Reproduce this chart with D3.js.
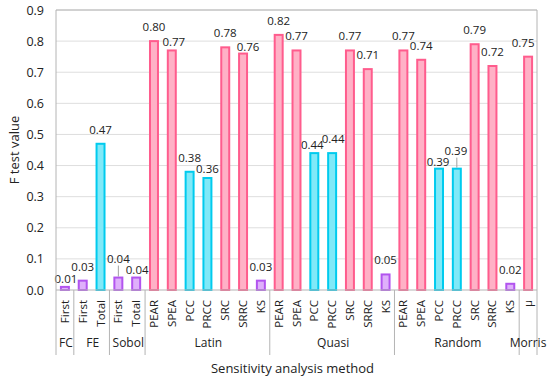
<!DOCTYPE html>
<html>
<head>
<meta charset="utf-8">
<script src="https://cdn.jsdelivr.net/npm/d3@7"></script>
<style>
  body { margin: 0; background: #fff; }
  text { font-family: "Open Sans", "Noto Sans", sans-serif; fill: #222; }
</style>
</head>
<body>
<div id="fig"></div>
<script>
// data
let groups   = ['FC', 'FE', 'Sobol', 'Latin', 'Quasi', 'Random', 'Morris'];
let methods  = [
    ['First'],
    ['First', 'Total'],
    ['First', 'Total'],
    ['PEAR', 'SPEA', 'PCC', 'PRCC', 'SRC', 'SRRC', 'KS'],
    ['PEAR', 'SPEA', 'PCC', 'PRCC', 'SRC', 'SRRC', 'KS'],
    ['PEAR', 'SPEA', 'PCC', 'PRCC', 'SRC', 'SRRC', 'KS'],
    ['\u03bc']
];
let values = [
    [0.01],
    [0.03, 0.47],
    [0.04, 0.04],
    [0.80, 0.77, 0.38, 0.36, 0.78, 0.76, 0.03],
    [0.82, 0.77, 0.44, 0.44, 0.77, 0.71, 0.05],
    [0.77, 0.74, 0.39, 0.39, 0.79, 0.72, 0.02],
    [0.75]
];
// which colour family each bar belongs to
let kinds = [
    ['p'],
    ['p', 'c'],
    ['p', 'p'],
    ['r', 'r', 'c', 'c', 'r', 'r', 'p'],
    ['r', 'r', 'c', 'c', 'r', 'r', 'p'],
    ['r', 'r', 'c', 'c', 'r', 'r', 'p'],
    ['r']
];
let yTicks = [0, 0.1, 0.2, 0.3, 0.4, 0.5, 0.6, 0.7, 0.8, 0.9];

// label nudges (Excel moved a few labels to avoid overlaps): [dx, dy, leader]
let labelNudge = {
    'FC-First': [1, 6, 0],
    'Sobol-First': [0, -5, 1],
    'Sobol-Total': [1, 6, 0],
    'Latin-SPEA': [2, 6, 0],
    'Latin-PRCC': [0, 5, 0],
    'Latin-SRRC': [5, 7, 0],
    'Quasi-PCC': [-2, 6, 0],
    'Quasi-PRCC': [1, 0, 0],
    'Random-PCC': [-1, 7, 0],
    'Random-PRCC': [-1, -4, 1],
    'Morris-\u03bc': [-5, 0, 0]
};

let colors = {
    r: {fill: '#ffb1c6', stroke: '#ff5c8d'},
    c: {fill: '#80e9f8', stroke: '#00cbee'},
    p: {fill: '#dfb0fb', stroke: '#b254ef'}
};

let rows = [];
groups.forEach((g, gi) => {
    methods[gi].forEach((m, mi) => {
        rows.push({group: g, method: m, value: values[gi][mi], kind: kinds[gi][mi], key: `${g}-${m}`});
    });
});

let width = 550;
let height = 379;
let margin = {top: 10, right: 13, bottom: 89, left: 56};
let plot_width = width - margin.left - margin.right;
let plot_height = height - margin.top - margin.bottom;

let svg = d3.select('#fig').append('svg')
    .attr('width', width)
    .attr('height', height);

let g = svg.append('g')
    .attr('transform', `translate(${margin.left},${margin.top})`);

let x = d3.scaleBand()
    .domain(rows.map(d => d.key))
    .range([0, plot_width])
    .paddingInner(0.44)
    .paddingOuter(0.22);

let step = x.step();
let bandCenter = k => x(k) + x.bandwidth() / 2;

let y = d3.scaleLinear()
    .domain([0, 0.9])
    .range([plot_height, 0]);

// gridlines
g.append('g')
    .selectAll('line')
    .data(yTicks.slice(1))
    .join('line')
      .attr('x1', 0)
      .attr('x2', plot_width)
      .attr('y1', d => y(d))
      .attr('y2', d => y(d))
      .attr('stroke', '#dedede')
      .attr('stroke-width', 1);

// y axis
let yAxis = g.append('g')
    .call(d3.axisLeft(y).tickValues(yTicks).tickFormat(d3.format('.1f')).tickSize(0).tickPadding(12));
yAxis.select('.domain').remove();
yAxis.selectAll('text').style('font-size', '12.5px').attr('fill', '#222');

// plot frame (top)
g.append('line')
    .attr('x1', 0).attr('x2', plot_width)
    .attr('y1', 0).attr('y2', 0)
    .attr('stroke', '#b4b4b4');

// bars
g.append('g')
    .selectAll('rect')
    .data(rows)
    .join('rect')
      .attr('x', d => x(d.key) + 1)
      .attr('y', d => y(d.value))
      .attr('width', x.bandwidth() - 2)
      .attr('height', d => plot_height - y(d.value))
      .attr('fill', d => colors[d.kind].fill)
      .attr('stroke', d => colors[d.kind].stroke)
      .attr('stroke-width', 2);

// bottom axis line
g.append('line')
    .attr('x1', 0).attr('x2', plot_width)
    .attr('y1', plot_height).attr('y2', plot_height)
    .attr('stroke', '#b4b4b4');

// data labels
let labels = g.append('g');
rows.forEach(d => {
    let n = labelNudge[d.key] || [0, 0, 0];
    let cx = bandCenter(d.key) + n[0];
    let cy = y(d.value) - 14 + n[1];
    if (n[2]) {
        labels.append('line')
            .attr('x1', bandCenter(d.key)).attr('x2', bandCenter(d.key))
            .attr('y1', cy + 7).attr('y2', y(d.value) - 1)
            .attr('stroke', '#a0a0a0');
    }
    labels.append('text')
        .attr('x', cx)
        .attr('y', cy)
        .attr('dy', '0.35em')
        .attr('text-anchor', 'middle')
        .style('font-size', '11.5px')
        .text(d3.format('.2f')(d.value));
});

// category tick labels (rotated)
g.append('g')
    .selectAll('text')
    .data(rows)
    .join('text')
      .attr('transform', d => `translate(${bandCenter(d.key) + 4},${plot_height + 10}) rotate(-90)`)
      .attr('text-anchor', 'end')
      .style('font-size', '11.5px')
      .text(d => d.method);

// group separators and group labels
let axisBottom = plot_height + 65;
let bounds = [0];
let idx = 0;
groups.forEach((grp, gi) => {
    idx += methods[gi].length;
    bounds.push(idx);
});
g.append('g')
    .selectAll('line')
    .data(bounds)
    .join('line')
      .attr('x1', d => d * step)
      .attr('x2', d => d * step)
      .attr('y1', (d, i) => (i === 0 || i === bounds.length - 1) ? 0 : plot_height)
      .attr('y2', axisBottom)
      .attr('stroke', '#b4b4b4');

g.append('g')
    .selectAll('text')
    .data(groups)
    .join('text')
      .attr('x', (d, i) => (bounds[i] + bounds[i + 1]) / 2 * step + (i === groups.length - 1 ? 0 : 1))
      .attr('y', plot_height + 57)
      .attr('text-anchor', 'middle')
      .style('font-size', '12px')
      .text(d => d);

// axis titles
svg.append('text')
    .attr('x', margin.left + plot_width / 2 - 4)
    .attr('y', 373)
    .attr('text-anchor', 'middle')
    .style('font-size', '13px')
    .text('Sensitivity analysis method');

svg.append('text')
    .attr('transform', `translate(19,${margin.top + 140}) rotate(-90)`)
    .attr('text-anchor', 'middle')
    .style('font-size', '13px')
    .text('F test value');
</script>
</body>
</html>
